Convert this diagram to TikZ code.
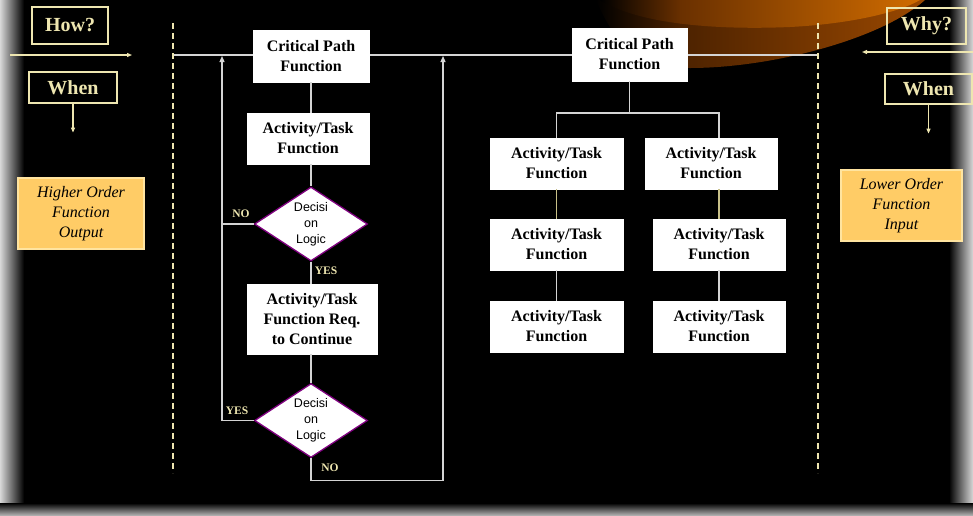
\documentclass[tikz,border=0pt]{standalone}
\usepackage{fontspec}
\setmainfont{Liberation Serif}
\newfontfamily\dsans{Liberation Sans}
\usetikzlibrary{shapes.geometric,arrows.meta}
\definecolor{cream}{HTML}{EEE6B0}
\definecolor{lgray}{HTML}{D4D4D4}
\definecolor{olivec}{HTML}{C8C088}
\definecolor{dpurple}{HTML}{800080}
\definecolor{boxorange}{HTML}{FFCC66}
\definecolor{boxedge}{HTML}{FFE4A0}
\definecolor{swA}{HTML}{9A4800}
\definecolor{swAm}{HTML}{4C2200}
\definecolor{swB}{HTML}{D06C00}
\definecolor{swBm}{HTML}{6A3000}
\definecolor{edgegray}{HTML}{D8D8D8}
\tikzset{
  wbox/.style={draw=white, fill=white, text=black, inner sep=0pt, align=center,
    font=\bfseries\fontsize{16}{20}\selectfont},
  qbox/.style={draw=cream, line width=1.2pt, text=cream, inner sep=0pt, align=center,
    font=\bfseries\fontsize{20}{24}\selectfont},
  obox/.style={draw=boxedge, line width=1.2pt, fill=boxorange, text=black, inner sep=0pt, align=center,
    font=\itshape\fontsize{16}{20}\selectfont},
  dec/.style={diamond, draw=dpurple, line width=1.3pt, fill=white, text=black, inner sep=0pt,
    minimum width=113pt, minimum height=74pt, aspect=1.53, align=center,
    font=\dsans\fontsize{12.5}{16}\selectfont},
  lbl/.style={text=cream, inner sep=0pt, font=\bfseries\fontsize{11.5}{13}\selectfont},
  ln/.style={draw=lgray, line width=1.2pt},
  oln/.style={draw=olivec, line width=1.2pt},
  cln/.style={draw=cream, line width=1.1pt},
  dashln/.style={draw=cream, line width=1.1pt, dash pattern=on 6pt off 4pt},
  tip/.style={-{Triangle[length=6pt,width=5pt]}},
  stip/.style={-{Triangle[length=5pt,width=4pt]}},
}
\begin{document}
\begin{tikzpicture}[x=1pt,y=-1pt]
\useasboundingbox (0,0) rectangle (973,515);
% background
\fill[black] (0,0) rectangle (973,515);
% orange swoosh
\begin{scope}
  \clip (596,0) .. controls (615,45) and (640,68) .. (690,68) .. controls (770,68) and (880,40) .. (925,0) -- cycle;
  \shade[left color=black, right color=swAm] (596,0) rectangle (681,70);
  \shade[left color=swAm, right color=swA] (680,0) rectangle (925,70);
\end{scope}
\begin{scope}
  \clip (600,0) .. controls (640,25) and (720,30) .. (790,27) .. controls (850,24) and (900,12) .. (920,0) -- cycle;
  \shade[left color=black, right color=swBm] (600,0) rectangle (681,30);
  \shade[left color=swBm, right color=swB] (680,0) rectangle (920,30);
\end{scope}
\shade[left color=edgegray, right color=black] (0,0) rectangle (24,515);
\shade[left color=black, right color=edgegray] (949,0) rectangle (973,515);
\shade[top color=black, bottom color=edgegray!80!black] (0,503) rectangle (973,515);
% main horizontal line and dashed separators
\coordinate (mL) at (173,55);
\coordinate (mR) at (818,55);
\coordinate (lx) at (222,0);
\coordinate (rx) at (443,0);
\draw[ln] (mL) -- (mR);
\coordinate (d1t) at (173,23); \coordinate (d1b) at (173,473);
\coordinate (d2t) at (818,23); \coordinate (d2b) at (818,473);
\draw[dashln] (d1t) -- (d1b);
\draw[dashln] (d2t) -- (d2b);
% left side
\node[qbox, minimum width=76pt, minimum height=37pt] (how) at (70,25.5) {How?};
\node[qbox, minimum width=88pt, minimum height=31pt] (whenL) at (73,87.5) {When};
\node[obox, minimum width=126pt, minimum height=71pt] (hof) at (81,213.5) {Higher Order\\Function\\Output};
\coordinate (ha) at (10,55); \coordinate (hb) at (132,55);
\draw[cln, stip] (ha) -- (hb);
\draw[cln, stip] (whenL.south) -- ++(0,29);
% right side
\node[qbox, minimum width=79pt, minimum height=36pt] (why) at (926.5,26) {Why?};
\node[qbox, minimum width=87pt, minimum height=30pt] (whenR) at (928.5,89) {When};
\node[obox, minimum width=121pt, minimum height=71pt] (lof) at (901.5,205.5) {Lower Order\\Function\\Input};
\coordinate (wa) at (973,52); \coordinate (wb) at (862,52);
\draw[cln, stip] (wa) -- (wb);
\draw[cln, stip] (whenR.south) -- ++(0,29);
% left flow
\node[wbox, minimum width=116pt, minimum height=52pt] (cp1) at (311,56) {Critical Path\\Function};
\node[wbox, minimum width=122pt, minimum height=51pt] (at1) at (308,138.5) {Activity/Task\\Function};
\node[dec] (dec1) at (311,224) {Decisi\\on\\Logic};
\node[wbox, minimum width=130pt, minimum height=70pt] (atreq) at (312,319) {Activity/Task\\Function Req.\\to Continue};
\node[dec] (dec2) at (311,420.5) {Decisi\\on\\Logic};
\draw[ln] (cp1.south) -- (at1.north -| cp1.south);
\draw[ln] (at1.south -| dec1.north) -- (dec1.north);
\draw[ln] (dec1.south) -- (dec1.south |- atreq.north);
\draw[ln] (dec2.north |- atreq.south) -- (dec2.north);
\draw[ln] (dec1.west) -- (dec1.west -| lx);
\draw[ln, tip, shorten >=1pt] (dec2.west) -- (dec2.west -| lx) -- (lx |- mL);
\draw[ln, tip, shorten >=1pt] (dec2.south) -- ++(0,22) -| (rx |- mL);
\node[lbl] (no1) at (241,214) {NO};
\node[lbl] (yes1) at (326,271) {YES};
\node[lbl] (yes2) at (237,411) {YES};
\node[lbl] (no2) at (330,468) {NO};
% right tree
\node[wbox, minimum width=115pt, minimum height=53pt] (cp2) at (629.5,54.5) {Critical Path\\Function};
\node[wbox, minimum width=133pt, minimum height=51pt] (r1l) at (556.5,163.5) {Activity/Task\\Function};
\node[wbox, minimum width=132pt, minimum height=51pt] (r1r) at (711,163.5) {Activity/Task\\Function};
\node[wbox, minimum width=133pt, minimum height=51pt] (r2l) at (556.5,244.5) {Activity/Task\\Function};
\node[wbox, minimum width=132pt, minimum height=51pt] (r2r) at (719,244.5) {Activity/Task\\Function};
\node[wbox, minimum width=133pt, minimum height=51pt] (r3l) at (556.5,326.5) {Activity/Task\\Function};
\node[wbox, minimum width=132pt, minimum height=51pt] (r3r) at (719,326.5) {Activity/Task\\Function};
\coordinate (tj) at (629.5,113);
\draw[ln] (cp2.south) -- (tj);
\draw[ln] (r1l.north) |- (tj);
\draw[ln] (tj) -| (r2r.north |- r1r.north);
\draw[oln] (r1l.south) -- (r2l.north);
\draw[oln] (r2r.north |- r1r.south) -- (r2r.north);
\draw[ln] (r2l.south) -- (r3l.north);
\draw[ln] (r2r.south) -- (r3r.north);
\end{tikzpicture}
\end{document}
